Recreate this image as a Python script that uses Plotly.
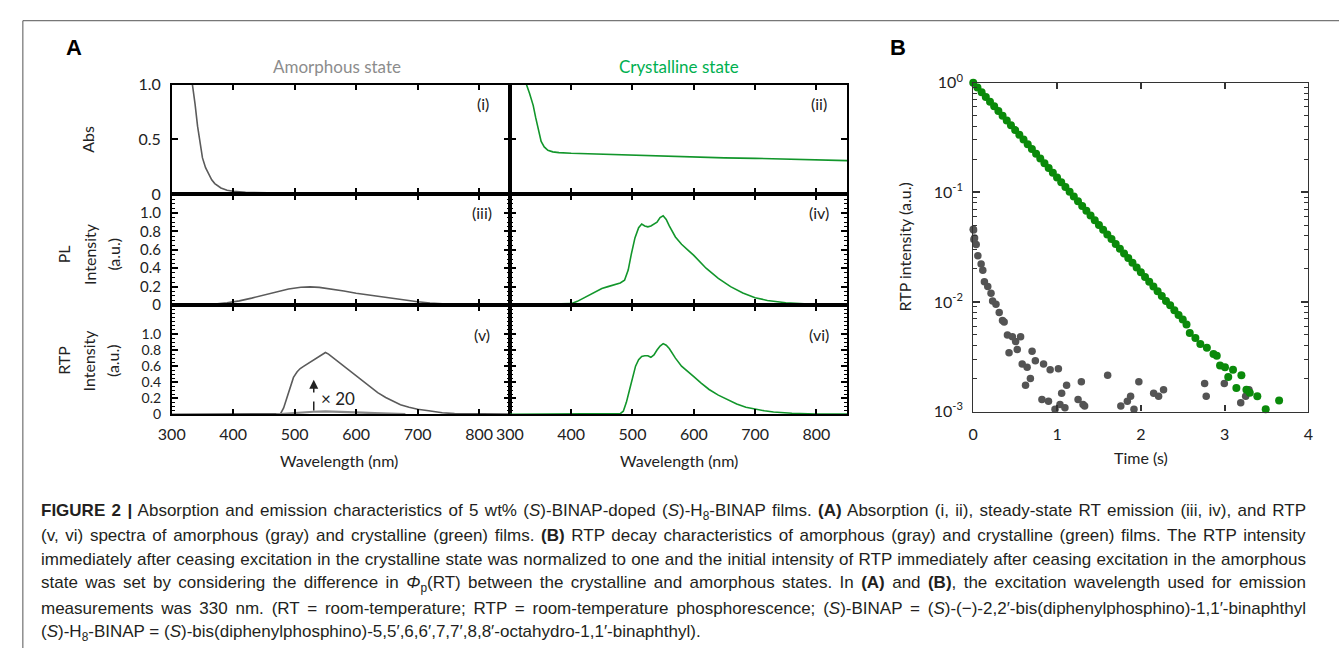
import plotly.graph_objects as go

W, H = 1344, 657

# ---------------- data: panel A ----------------
abs_am_wl = [330, 334, 338, 342, 346, 350, 355, 360, 365, 370, 380, 390, 400, 420, 450, 500, 600, 700, 850]
abs_am = [1.15, 1.0, 0.82, 0.62, 0.45, 0.33, 0.24, 0.18, 0.13, 0.095, 0.055, 0.035, 0.025, 0.015, 0.01, 0.007, 0.005, 0.004, 0.003]
abs_cr_wl = [320, 327, 332, 338, 342, 346, 351, 356, 362, 370, 380, 400, 440, 500, 550, 600, 650, 700, 760, 800, 850]
abs_cr = [1.15, 1.0, 0.92, 0.81, 0.70, 0.60, 0.48, 0.43, 0.40, 0.385, 0.378, 0.372, 0.365, 0.355, 0.345, 0.338, 0.33, 0.326, 0.32, 0.316, 0.305]
pl_am_wl = [300, 350, 370, 390, 410, 430, 450, 470, 490, 510, 525, 540, 560, 580, 600, 620, 640, 660, 680, 700, 720, 740, 760, 800, 850]
pl_am = [0, 0.003, 0.01, 0.025, 0.045, 0.075, 0.11, 0.145, 0.175, 0.193, 0.197, 0.192, 0.175, 0.152, 0.128, 0.108, 0.09, 0.07, 0.052, 0.036, 0.022, 0.012, 0.006, 0.002, 0.0]
pl_cr_wl = [300, 350, 390, 400, 410, 420, 430, 440, 450, 460, 470, 480, 487, 493, 498, 504, 510, 515, 520, 525, 530, 535, 540, 545, 550, 555, 560, 570, 580, 590, 600, 620, 640, 660, 680, 700, 720, 750, 780, 850]
pl_cr = [0, 0.005, 0.01, 0.015, 0.04, 0.075, 0.11, 0.145, 0.18, 0.2, 0.22, 0.24, 0.27, 0.38, 0.55, 0.73, 0.84, 0.88, 0.86, 0.85, 0.86, 0.88, 0.9, 0.95, 0.97, 0.93, 0.86, 0.74, 0.66, 0.6, 0.54, 0.4, 0.29, 0.2, 0.13, 0.08, 0.05, 0.025, 0.012, 0.005]
rtp_am_wl = [300, 400, 470, 477, 482, 487, 493, 498, 504, 509, 515, 525, 535, 545, 550, 555, 560, 568, 580, 595, 610, 622, 635, 648, 660, 672, 686, 700, 718, 740, 760, 800, 850]
rtp_am_x20 = [0, 0.005, 0.005, 0.01, 0.08, 0.19, 0.33, 0.46, 0.53, 0.57, 0.6, 0.65, 0.7, 0.74, 0.77, 0.75, 0.72, 0.67, 0.6, 0.51, 0.42, 0.35, 0.27, 0.21, 0.16, 0.12, 0.09, 0.065, 0.045, 0.02, 0.01, 0.005, 0.003]
rtp_am_raw_wl = [470, 490, 510, 530, 550, 570, 590, 610, 630, 650, 680]
rtp_am_raw = [0.0, 0.012, 0.028, 0.033, 0.038, 0.035, 0.028, 0.022, 0.015, 0.01, 0.004]
rtp_cr_wl = [300, 400, 470, 480, 485, 490, 495, 500, 505, 510, 515, 520, 525, 530, 535, 540, 545, 550, 555, 560, 570, 580, 590, 600, 612, 625, 640, 655, 670, 685, 700, 715, 730, 760, 800, 850]
rtp_cr = [0, 0.005, 0.005, 0.01, 0.04, 0.15, 0.3, 0.45, 0.6, 0.68, 0.72, 0.73, 0.73, 0.71, 0.74, 0.8, 0.85, 0.88, 0.86, 0.82, 0.7, 0.6, 0.54, 0.47, 0.39, 0.31, 0.24, 0.18, 0.13, 0.09, 0.065, 0.045, 0.03, 0.015, 0.006, 0.003]

wl_ticks = [300, 400, 500, 600, 700, 800]

# ---------------- data: panel B ----------------
cr_t = [0.00, 0.05, 0.10, 0.15, 0.20, 0.25, 0.30, 0.35, 0.40, 0.45, 0.50, 0.55, 0.60, 0.65, 0.70, 0.75,
        0.80, 0.85, 0.90, 0.95, 1.00, 1.05, 1.10, 1.15, 1.20, 1.25, 1.30, 1.35, 1.40, 1.45, 1.50, 1.55,
        1.60, 1.65, 1.70, 1.75, 1.80, 1.85, 1.90, 1.95, 2.00, 2.05, 2.10, 2.15, 2.20, 2.25, 2.30, 2.35,
        2.40, 2.45, 2.50, 2.545, 2.584, 2.651, 2.71, 2.788, 2.867, 2.906, 2.945, 3.004, 3.043, 3.10,
        3.14, 3.20, 3.26, 3.30, 3.39, 3.49, 3.55, 3.65]
cr_i = [1.000, 0.9052, 0.8194, 0.7417, 0.6714, 0.6078, 0.5502, 0.4980, 0.4508, 0.4081, 0.3694, 0.3344,
        0.3027, 0.2740, 0.2480, 0.2245, 0.2032, 0.1840, 0.1665, 0.1507, 0.1365, 0.1235, 0.1118, 0.1012,
        0.0916, 0.0829, 0.0751, 0.0680, 0.0615, 0.0557, 0.0504, 0.0456, 0.0413, 0.0374, 0.0338, 0.0306,
        0.0277, 0.0251, 0.0227, 0.0206, 0.0186, 0.0169, 0.0153, 0.0138, 0.0125, 0.0113, 0.0102, 0.0093,
        0.0084, 0.0076, 0.0069, 0.00622, 0.00519, 0.00468, 0.00414, 0.00382, 0.00334, 0.00322, 0.00263,
        0.00254, 0.00207, 0.0024, 0.00164, 0.00214, 0.00158, 0.00148, 0.00138, 0.00105, 0.00098, 0.00126]

am_t = [0.0, 0.004, 0.008, 0.016, 0.035, 0.055, 0.094, 0.114, 0.133, 0.173, 0.212, 0.231, 0.271, 0.31,
        0.349, 0.369, 0.408, 0.427, 0.467, 0.506, 0.525, 0.565, 0.584, 0.624, 0.643, 0.682, 0.702, 0.741,
        0.82, 0.839, 0.898, 0.918, 0.976, 1.016, 1.035, 1.055, 1.094, 1.114, 1.251, 1.29, 1.31, 1.329,
        1.604, 1.761, 1.839, 1.878, 1.918, 1.976, 2.153, 2.212, 2.271, 2.761, 2.78, 2.996, 3.192, 3.251, 3.29]
am_i = [0.046, 0.0454, 0.037, 0.0383, 0.0334, 0.0263, 0.0222, 0.0194, 0.0153, 0.0138, 0.012, 0.0102,
        0.0095, 0.008, 0.00676, 0.00655, 0.00499, 0.00343, 0.00482, 0.00435, 0.00367, 0.00482, 0.00271,
        0.00174, 0.00253, 0.002, 0.00355, 0.0029, 0.00129, 0.00271, 0.00124, 0.0024, 0.00105, 0.00245,
        0.00116, 0.00147, 0.00108, 0.00174, 0.00129, 0.00187, 0.00116, 0.00112, 0.00214, 0.00112, 0.00124,
        0.00138, 0.00105, 0.00187, 0.00147, 0.00138, 0.00158, 0.0018, 0.00138, 0.0018, 0.0012, 0.00138, 0.00158]

time_ticks = [0, 1, 2, 3, 4]

# ---------------- styling ----------------
GRAY = "#5b5b5b"
GREEN = "#12962b"
DOT_GREEN = "#0a8a0a"
DOT_GRAY = "#545454"
FONT = "Lato, 'Open Sans', sans-serif"
CAP_FONT = "'Liberation Sans', Arial, sans-serif"


def px(x):
    return x / W


def py(y):
    return 1 - y / H


fig = go.Figure()

panels = [
    (abs_am_wl, abs_am, GRAY, "x", "y"),
    (abs_cr_wl, abs_cr, GREEN, "x2", "y2"),
    (pl_am_wl, pl_am, GRAY, "x3", "y3"),
    (pl_cr_wl, pl_cr, GREEN, "x4", "y4"),
    (rtp_am_wl, rtp_am_x20, GRAY, "x5", "y5"),
    (rtp_cr_wl, rtp_cr, GREEN, "x6", "y6"),
]
for xs, ys, col, xa, ya in panels:
    fig.add_trace(go.Scatter(x=xs, y=ys, mode="lines", line=dict(color=col, width=1.6),
                             xaxis=xa, yaxis=ya, showlegend=False, hoverinfo="skip"))
fig.add_trace(go.Scatter(x=rtp_am_raw_wl, y=rtp_am_raw, mode="lines", line=dict(color="#8a8a8a", width=2.2),
                         xaxis="x5", yaxis="y5", showlegend=False))

fig.add_trace(go.Scatter(x=am_t, y=am_i, mode="markers", marker=dict(color=DOT_GRAY, size=7.5),
                         xaxis="x7", yaxis="y7", showlegend=False, cliponaxis=False))
fig.add_trace(go.Scatter(x=cr_t, y=cr_i, mode="markers", marker=dict(color=DOT_GREEN, size=8),
                         xaxis="x7", yaxis="y7", showlegend=False, cliponaxis=False))

xL = [px(160), px(503)]
xR = [px(503), px(845)]
rows = [[py(188), py(75)], [py(302.7), py(188)], [py(415.7), py(302.7)]]
ranges = [[0, 1.0], [0, 1.207], [0, 1.36]]
ytick_sizes = [16, 15, 14]

axis_common = dict(showline=True, linecolor="black", linewidth=1.6, mirror="ticks", ticks="inside",
                   tickcolor="black", tickwidth=1.5, showgrid=False, zeroline=False,
                   tickfont=dict(family=FONT, size=16, color="#222"))

layout = dict(width=W, height=H, margin=dict(l=0, r=0, t=0, b=0), paper_bgcolor="white",
              plot_bgcolor="white", showlegend=False)

for i in range(6):
    r, c = divmod(i, 2)
    n = i + 1
    xk = "xaxis" if n == 1 else f"xaxis{n}"
    yk = "yaxis" if n == 1 else f"yaxis{n}"
    ya_name = "y" if n == 1 else f"y{n}"
    xa_name = "x" if n == 1 else f"x{n}"
    xd = dict(axis_common, domain=xL if c == 0 else xR, range=[300, 850], anchor=ya_name,
              tickvals=wl_ticks, ticktext=[str(v) for v in wl_ticks], ticklen=6,
              showticklabels=(r == 2), ticklabelstandoff=5)
    yfont = dict(family=FONT, size=ytick_sizes[r], color="#222")
    if r == 0:
        yd = dict(axis_common, domain=rows[r], range=ranges[r], anchor=xa_name,
                  tickvals=[0, 0.5, 1.0], ticktext=["0", "0.5", "1.0"], ticklen=6,
                  showticklabels=(c == 0), ticklabelstandoff=6, tickfont=yfont)
    else:
        yv = [0, 0.2, 0.4, 0.6, 0.8, 1.0]
        yd = dict(axis_common, domain=rows[r], range=ranges[r], anchor=xa_name,
                  tickvals=yv, ticktext=["0", "0.2", "0.4", "0.6", "0.8", "1.0"], ticklen=6,
                  showticklabels=(c == 0), ticklabelstandoff=6, tickfont=yfont,
                  minor=dict(ticks="inside", dtick=0.05, tick0=0, ticklen=3, tickcolor="black", tickwidth=1))
    layout[xk] = xd
    layout[yk] = yd

minor_log = [m * 10 ** e for e in (-3, -2, -1) for m in range(2, 10)]
layout["xaxis7"] = dict(axis_common, domain=[px(973), px(1313)], range=[0, 4], anchor="y7",
                        tickvals=time_ticks, ticktext=[str(v) for v in time_ticks], ticklen=6,
                        linecolor="#333", linewidth=1.3, tickcolor="#333", ticklabelstandoff=8)
layout["yaxis7"] = dict(axis_common, domain=[py(412.7), py(73)], type="log", range=[-3, 0], anchor="x7",
                        tickvals=[1, 0.1, 0.01, 0.001],
                        ticktext=["10<sup>0</sup>", "10<sup>-1</sup>", "10<sup>-2</sup>", "10<sup>-3</sup>"],
                        ticklen=7, linecolor="#333", linewidth=1.3, tickcolor="#333", ticklabelstandoff=6,
                        tickfont=dict(family=FONT, size=16, color="#222"),
                        minor=dict(ticks="inside", tickvals=minor_log, ticklen=4, tickcolor="#333", tickwidth=1))

fig.update_layout(**layout)

ann = []


def txt(x, y, s, size=15, color="#222", family=FONT, angle=0, xanchor="center", yanchor="middle",
        align="center"):
    ann.append(dict(x=px(x), y=py(y), xref="paper", yref="paper", text=s, showarrow=False,
                    font=dict(family=family, size=size, color=color), textangle=angle,
                    xanchor=xanchor, yanchor=yanchor, align=align))


txt(61, 37, "<b>A</b>", size=22, color="black", family="Arial, 'Liberation Sans', sans-serif")
txt(897, 37, "<b>B</b>", size=22, color="black", family="Arial, 'Liberation Sans', sans-serif")
txt(328, 56, "Amorphous state", size=17, color="#8c8c8c")
txt(675, 56, "Crystalline state", size=17, color="#00b050")
for lbl, x, y in [("(i)", 476, 95), ("(ii)", 817, 95), ("(iii)", 475, 207), ("(iv)", 817, 207),
                  ("(v)", 475, 333), ("(vi)", 817, 333)]:
    txt(x, y, lbl, size=16)
txt(75, 131, "Abs", size=16, angle=-90)
for row_y, first in [(250, "PL"), (360, "RTP")]:
    txt(50, row_y, first, size=16, angle=-90)
    txt(76, row_y, "Intensity", size=16, angle=-90)
    txt(100, row_y, "(a.u.)", size=16, angle=-90)
txt(330, 463, "Wavelength (nm)", size=16)
txt(675, 463, "Wavelength (nm)", size=16)
txt(1143, 460, "Time (s)", size=16)
txt(903, 243, "RTP intensity (a.u.)", size=16, angle=-90)

ann.append(dict(x=531, y=0.43, xref="x5", yref="y5", ax=531, ay=0.36, axref="x5", ayref="y5",
                showarrow=True, arrowhead=2, arrowsize=1.2, arrowwidth=1.5, arrowcolor="#222", text=""))
ann.append(dict(x=540, y=0.2, xref="x5", yref="y5", text="× 20", showarrow=False, xanchor="left",
                font=dict(family=FONT, size=17, color="#222")))

caption = [
    "<b>FIGURE 2 |</b> Absorption and emission characteristics of 5 wt% (<i>S</i>)-BINAP-doped (<i>S</i>)-H<sub>8</sub>-BINAP films. <b>(A)</b> Absorption (i, ii), steady-state RT emission (iii, iv), and RTP",
    "(v, vi) spectra of amorphous (gray) and crystalline (green) films. <b>(B)</b> RTP decay characteristics of amorphous (gray) and crystalline (green) films. The RTP intensity",
    "immediately after ceasing excitation in the crystalline state was normalized to one and the initial intensity of RTP immediately after ceasing excitation in the amorphous",
    "state was set by considering the difference in <i>Φ</i><sub>p</sub>(RT) between the crystalline and amorphous states. In <b>(A)</b> and <b>(B)</b>, the excitation wavelength used for emission",
    "measurements was 330 nm. (RT = room-temperature; RTP = room-temperature phosphorescence; (<i>S</i>)-BINAP = (<i>S</i>)-(−)-2,2′-bis(diphenylphosphino)-1,1′-binaphthyl",
    "(<i>S</i>)-H<sub>8</sub>-BINAP = (<i>S</i>)-bis(diphenylphosphino)-5,5′,6,6′,7,7′,8,8′-octahydro-1,1′-binaphthyl).",
]
cap_y = [516, 541, 566, 591, 616, 641]
for line, y in zip(caption, cap_y):
    txt(25, y, line, size=17, color="#231f20", family=CAP_FONT, xanchor="left", align="left")

shapes = [
    dict(type="line", xref="paper", yref="paper", x0=px(9), x1=1, y0=py(9), y1=py(9),
         line=dict(color="#555", width=1)),
    dict(type="line", xref="paper", yref="paper", x0=px(9), x1=px(9), y0=py(9), y1=0,
         line=dict(color="#555", width=1)),
    dict(type="line", xref="x5", yref="y5", x0=531, x1=531, y0=0.05, y1=0.38,
         line=dict(color="#222", width=1.5, dash="dash")),
]

fig.update_layout(annotations=ann, shapes=shapes)

# justify the caption lines (all but the last) to the right edge, like the printed caption
justify_js = """
document.body.style.margin='0';document.body.style.padding='0';document.body.style.overflow='hidden';
var RIGHT = 1306;
document.querySelectorAll('.annotation-text').forEach(function(el){
  var st = el.getAttribute('style') || '';
  var t = el.textContent || '';
  if (st.indexOf('Liberation Sans') < 0 || t.length < 100) { return; }
  if (/binaphthyl\\)\\.\\s*$/.test(t)) { return; }
  var n = (t.match(/ /g) || []).length;
  var r = el.getBoundingClientRect();
  if (n > 0) { el.style.wordSpacing = ((RIGHT - r.right) / n) + 'px'; }
});
"""
fig.write_html("out.html", config={"displayModeBar": False}, post_script=justify_js)
